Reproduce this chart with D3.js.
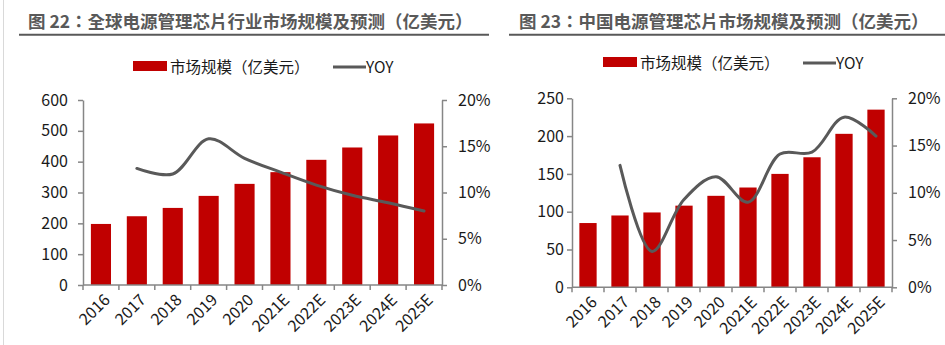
<!DOCTYPE html>
<html>
<head>
<meta charset="utf-8">
<script src="https://cdn.jsdelivr.net/npm/d3@7"></script>
<style>
  html, body { margin: 0; padding: 0; background: #fff; }
  svg { display: block; font-family: "Noto Sans CJK SC", "Noto Sans", sans-serif; }
</style>
</head>
<body>
<svg id="chart" width="945" height="345"></svg>
<script>
// ---- data ----
const years = ["2016", "2017", "2018", "2019", "2020", "2021E", "2022E", "2023E", "2024E", "2025E"];
const globalSize = [198, 223, 250, 289, 328, 366, 406, 446, 485, 524];
const globalYoy = [null, 12.6, 12.0, 15.8, 13.7, 12.2, 10.8, 9.7, 8.9, 8.0];
const chinaSize = [85, 95, 99, 108, 121, 132, 150, 172, 203, 235];
const chinaYoy = [null, 12.9, 3.8, 9.3, 11.7, 9.0, 14.1, 14.3, 18.0, 16.0];
const globalTicks = [0, 100, 200, 300, 400, 500, 600];
const chinaTicks = [0, 50, 100, 150, 200, 250];
const yoyTicks = [0, 5, 10, 15, 20];
const titles = ["图 22：全球电源管理芯片行业市场规模及预测（亿美元）", "图 23：中国电源管理芯片市场规模及预测（亿美元）"];
const legendLabels = ["市场规模（亿美元）", "YOY"];

const RED = "#C00000", LINE = "#595959", AXIS = "#868686", TEXT = "#1a1a1a";
const svg = d3.select("#chart");

// page left border
svg.append("line").attr("x1", 3.5).attr("x2", 3.5).attr("y1", 0).attr("y2", 345)
  .attr("stroke", "#d9d9d9").attr("stroke-width", 1);

function drawChart(cfg) {
  const g = svg.append("g");
  // title
  g.append("text").attr("x", cfg.titleX).attr("y", 20.5).attr("dominant-baseline", "central")
    .attr("font-family", "'Noto Sans CJK TC', 'Noto Sans CJK SC', sans-serif")
    .attr("font-size", 17.5).attr("font-weight", "bold").attr("fill", "#595959").text(cfg.title);
  g.append("line").attr("x1", cfg.ruleX1).attr("x2", cfg.ruleX2).attr("y1", 34.8).attr("y2", 34.8)
    .attr("stroke", "#595959").attr("stroke-width", 2);

  // legend
  const ly = cfg.legendY;
  g.append("rect").attr("x", cfg.legendX).attr("y", ly - 5).attr("width", 34).attr("height", 10).attr("fill", RED);
  g.append("text").attr("x", cfg.legendX + 37).attr("y", ly).attr("dominant-baseline", "central")
    .attr("font-size", 15.5).attr("fill", TEXT).text(legendLabels[0]);
  g.append("line").attr("x1", cfg.legendX + 200).attr("x2", cfg.legendX + 233).attr("y1", ly + 1).attr("y2", ly + 1)
    .attr("stroke", LINE).attr("stroke-width", 3);
  g.append("text").attr("x", cfg.legendX + 233).attr("y", ly).attr("dominant-baseline", "central")
    .attr("font-size", 15.5).attr("fill", TEXT).text(legendLabels[1]);

  const x = d3.scaleBand().domain(years).range([cfg.x0, cfg.x1]).paddingInner(cfg.pad).paddingOuter(cfg.pad / 2);
  const y = d3.scaleLinear().domain([0, cfg.ticks[cfg.ticks.length - 1]]).range([cfg.yB, cfg.yT]);
  const y2 = d3.scaleLinear().domain([0, 20]).range([cfg.yB, cfg.yT]);

  // bars
  g.append("g").selectAll("rect").data(cfg.size).join("rect")
    .attr("x", (d, i) => x(years[i])).attr("width", x.bandwidth())
    .attr("y", d => y(d)).attr("height", d => y(0) - y(d)).attr("fill", RED);

  // left axis
  const ya = g.append("g").attr("transform", `translate(${cfg.x0},0)`)
    .call(d3.axisLeft(y).tickValues(cfg.ticks).tickSize(5).tickSizeOuter(0).tickPadding(cfg.lpad));
  // right axis
  const ya2 = g.append("g").attr("transform", `translate(${cfg.x1},0)`)
    .call(d3.axisRight(y2).tickValues(yoyTicks).tickSize(5).tickSizeOuter(0).tickPadding(cfg.rpad).tickFormat(d => d + "%"));
  // bottom axis: boundary ticks
  const bounds = d3.range(years.length + 1).map(i => cfg.x0 + i * x.step());
  const xb = g.append("g");
  xb.append("line").attr("x1", cfg.x0).attr("x2", cfg.x1).attr("y1", cfg.yB).attr("y2", cfg.yB)
    .attr("stroke", AXIS).attr("stroke-width", 1.5);
  xb.selectAll("line.t").data(bounds).join("line").attr("class", "t")
    .attr("x1", d => d).attr("x2", d => d).attr("y1", cfg.yB).attr("y2", cfg.yB + 5)
    .attr("stroke", AXIS).attr("stroke-width", 1.5);
  xb.selectAll("text").data(years).join("text")
    .attr("transform", d => `translate(${x(d) + x.bandwidth() / 2 + 6},${cfg.yB + 12}) rotate(-45)`)
    .attr("text-anchor", "end").attr("dy", "0.35em")
    .attr("font-size", 16).attr("fill", TEXT).text(d => d);

  [ya, ya2].forEach(a => {
    a.selectAll(".domain, .tick line").attr("stroke", AXIS).attr("stroke-width", 1.5);
    a.selectAll(".tick text").attr("font-size", 16).attr("fill", TEXT)
      .attr("font-family", "'Noto Sans CJK SC', sans-serif");
  });

  // yoy line
  const pts = cfg.yoy.map((v, i) => [x(years[i]) + x.bandwidth() / 2, v]).filter(p => p[1] != null);
  g.append("path").datum(pts)
    .attr("d", d3.line().x(p => p[0]).y(p => y2(p[1])).curve(d3.curveCatmullRom.alpha(0.5)))
    .attr("fill", "none").attr("stroke", LINE).attr("stroke-width", 3).attr("stroke-linecap", "round");
}

drawChart({
  title: titles[0], titleX: 28, ruleX1: 19, ruleX2: 489,
  legendX: 133, legendY: 66,
  x0: 83, x1: 442, yT: 100, yB: 285, pad: 0.44,
  ticks: globalTicks, size: globalSize, yoy: globalYoy, lpad: 10, rpad: 11
});
drawChart({
  title: titles[1], titleX: 519, ruleX1: 509, ruleX2: 945,
  legendX: 603, legendY: 62,
  x0: 572, x1: 892, yT: 98.3, yB: 287.3, pad: 0.46,
  ticks: chinaTicks, size: chinaSize, yoy: chinaYoy, lpad: 3, rpad: 11
});
</script>
</body>
</html>
